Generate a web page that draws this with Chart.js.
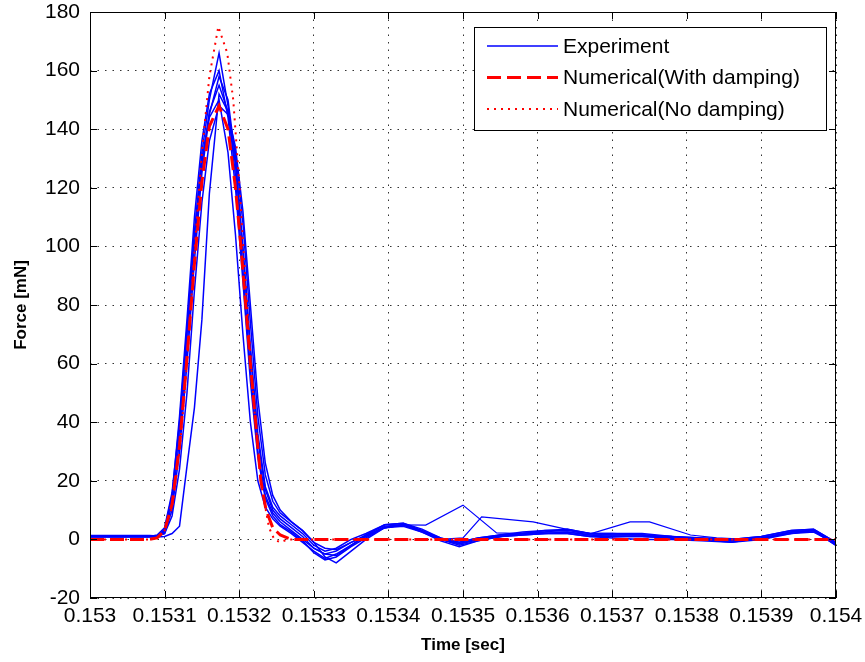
<!DOCTYPE html>
<html>
<head>
<meta charset="utf-8">
<script src="https://cdn.jsdelivr.net/npm/chart.js@4.4.1/dist/chart.umd.min.js"></script>
<style>
  html, body { margin: 0; padding: 0; background: #fff; }
</style>
</head>
<body>
<canvas id="forceChart" width="865" height="662"></canvas>
<script>
// axis ticks
const xTickValues = [0.153, 0.1531, 0.1532, 0.1533, 0.1534, 0.1535, 0.1536, 0.1537, 0.1538, 0.1539, 0.154];
const yTickValues = [-20, 0, 20, 40, 60, 80, 100, 120, 140, 160, 180];

// experiment runs, all sampled on the same time grid [s]
const tExp = [0.153, 0.15308, 0.15309, 0.1531, 0.15311, 0.15312, 0.15313, 0.15314, 0.15315, 0.15316,
  0.153173, 0.153185, 0.153195, 0.153205, 0.153215, 0.153225, 0.153235, 0.153245, 0.153255,
  0.15327, 0.153285, 0.1533, 0.153315, 0.15333, 0.15335, 0.15337, 0.153395, 0.15342, 0.153445,
  0.15347, 0.153495, 0.15352, 0.15355, 0.15358, 0.15361, 0.15364, 0.15367, 0.1537, 0.15374,
  0.15378, 0.15382, 0.15386, 0.1539, 0.15394, 0.15397, 0.154];

const exp1 = [1, 1, 1, 3, 14, 38, 70, 104, 132, 150,
  166, 148, 124, 92, 58, 30, 15, 9, 6,
  3, 0, -3, -5, -4, -1, 1, 4, 5, 3,
  0, -1.5, 0, 1, 2, 2.5, 2.5, 1.5, 1.5, 1.5,
  1, 0, -0.5, 0.5, 2.5, 3, -1.5];
const exp2 = [1.2, 1.2, 1, 2, 10, 30, 60, 95, 125, 145,
  158, 150, 130, 100, 66, 36, 18, 11, 8,
  5, 2, -2, -4, -3, 0, 2, 5, 5.5, 3.5,
  0.5, -1, 0.5, 1.5, 2, 3, 3, 2, 2, 2,
  1, 0.5, 0, 1, 3, 3.5, -1];
const exp3 = [0.8, 0.8, 0.8, 1, 2, 4.5, 25, 45, 75, 118,
  152, 146, 132, 108, 74, 42, 22, 13, 9,
  6, 3, -1, -6, -8, -4, 0, 4, 5, 2.5,
  -0.5, -2.5, -0.5, 1, 1.5, 2, 2, 1, 0.5, 0,
  0, -0.5, -1, 0.5, 2.5, 3, -2];
const exp4 = [1, 1, 1.5, 4, 16, 40, 72, 105, 130, 144,
  150, 132, 104, 70, 40, 20, 11, 7, 4.5,
  2, -1, -4, -6.5, -5, -2, 1, 4.5, 5, 3,
  0, -2, -0.5, 1, 2, 2.5, 3.5, 2, 1.5, 1.5,
  0.5, 0, -0.5, 0, 2, 3, -1.5];
const exp5 = [1, 1, 1, 2.5, 12, 34, 65, 100, 128, 146,
  155, 146, 128, 98, 64, 34, 17, 10, 7,
  4, 1, -3, -5, -5.5, -2, 1.5, 5, 5.5, 3,
  0, -1.5, 0, 1.5, 2.5, 3, 3.5, 2, 2, 1.5,
  1, 0.5, 0, 1, 3, 3.5, -1];
const exp6 = [1.3, 1.3, 1.2, 2, 8, 24, 50, 85, 115, 136,
  148, 145, 134, 112, 80, 48, 26, 15, 10,
  6, 3, -1, -3, -3.5, -1, 1.5, 4, 4.5, 2.5,
  0, -1, 0.5, 1.5, 2, 2, 2, 1, 1, 1,
  0.5, 0, -0.5, 0.5, 2, 2.5, -1.5];
const exp7 = [1, 1, 1, 3.5, 15, 42, 75, 110, 136, 152,
  160, 144, 120, 88, 54, 28, 14, 8, 5,
  2.5, -0.5, -4.5, -7, -6, -2.5, 0.5, 4, 5, 3,
  0.5, -1.5, 0, 1, 1.5, 2, 2.5, 1.5, 1, 1,
  0.5, 0, -1, 0, 2.5, 3, -2];

// two runs that leave the bundle after the pulse (own samples)
const tExpA = [0.1534, 0.15345, 0.1535, 0.153545, 0.15358];
const expA = [5, 4.9, 11.7, 2.2, 2];
const tExpB = [0.15347, 0.1535, 0.153525, 0.153594, 0.153647, 0.153665, 0.153724, 0.15375, 0.153805, 0.15384, 0.15388];
const expB = [0, 0.5, 7.7, 6, 3, 1.5, 6, 6, 1.5, 0.5, 0];

// numerical models
const tDamped = [0.153, 0.15308, 0.15309, 0.1531, 0.15311, 0.15312, 0.15313, 0.15314, 0.15315, 0.15316,
  0.153173, 0.153185, 0.153195, 0.153203, 0.15321, 0.153215, 0.153222, 0.153229, 0.153236,
  0.153245, 0.153255, 0.15327, 0.154];
const fDamped = [0, 0, 0.5, 3, 12, 32, 62, 94, 122, 141,
  148, 140, 120, 98, 76, 60, 40, 20, 10,
  4, 1.5, 0, 0];

const tUndamped = [0.153, 0.15308, 0.15309, 0.1531, 0.15311, 0.15312, 0.15313, 0.15314, 0.15315, 0.15316,
  0.153172, 0.153184, 0.153192, 0.1532, 0.15321, 0.15322, 0.15323, 0.15324, 0.153247,
  0.153255, 0.153265, 0.154];
const fUndamped = [0, 0, 0.5, 3, 11, 30, 60, 98, 132, 158,
  175, 166, 150, 122, 82, 45, 18, 4, 0,
  -1, 0, 0];

const BLUE = "#0000ff";
const RED = "#ff0000";

function pairs(ts, fs) {
  return ts.map((t, i) => ({ x: t, y: fs[i] }));
}

const datasets = [];
datasets.push({
  label: "Numerical(No damping)",
  data: pairs(tUndamped, fUndamped),
  borderColor: RED,
  borderWidth: 2,
  borderDash: [2, 5],
  order: 0
});
datasets.push({
  label: "Numerical(With damping)",
  data: pairs(tDamped, fDamped),
  borderColor: RED,
  borderWidth: 3,
  borderDash: [14, 6],
  order: 1
});
[exp1, exp2, exp3, exp4, exp5, exp6, exp7].forEach(run => {
  datasets.push({ label: "Experiment", data: pairs(tExp, run), borderColor: BLUE, borderWidth: 1.5, order: 2 });
});
datasets.push({ label: "Experiment", data: pairs(tExpA, expA), borderColor: BLUE, borderWidth: 1.2, order: 2 });
datasets.push({ label: "Experiment", data: pairs(tExpB, expB), borderColor: BLUE, borderWidth: 1.2, order: 2 });

// legend entries (one per distinct label)
const legendItems = [
  { text: "Experiment", color: BLUE, width: 1.5, dash: [] },
  { text: "Numerical(With damping)", color: RED, width: 3, dash: [14, 6] },
  { text: "Numerical(No damping)", color: RED, width: 2, dash: [2, 5] }
];

// inward ticks + closed box, like a MATLAB axes
const axesBox = {
  id: "axesBox",
  afterDatasetsDraw(chart) {
    const { ctx, chartArea: a, scales: { x, y } } = chart;
    ctx.save();
    ctx.strokeStyle = "#000";
    ctx.lineWidth = 1;
    ctx.setLineDash([]);
    ctx.beginPath();
    xTickValues.forEach(v => {
      const px = Math.round(x.getPixelForValue(v)) + 0.5;
      ctx.moveTo(px, a.bottom); ctx.lineTo(px, a.bottom - 7);
      ctx.moveTo(px, a.top); ctx.lineTo(px, a.top + 7);
    });
    yTickValues.forEach(v => {
      const py = Math.round(y.getPixelForValue(v)) + 0.5;
      ctx.moveTo(a.left, py); ctx.lineTo(a.left + 7, py);
      ctx.moveTo(a.right, py); ctx.lineTo(a.right - 7, py);
    });
    ctx.stroke();
    ctx.strokeRect(Math.round(a.left) + 0.5, Math.round(a.top) + 0.5,
      Math.round(a.width) - 1, Math.round(a.height) - 1);
    ctx.restore();
  }
};

const boxLegend = {
  id: "boxLegend",
  afterDraw(chart) {
    const { ctx } = chart;
    const left = 474, top = 27, w = 352, h = 103;
    ctx.save();
    ctx.fillStyle = "#fff";
    ctx.fillRect(left, top, w, h);
    ctx.strokeStyle = "#000";
    ctx.lineWidth = 1;
    ctx.setLineDash([]);
    ctx.strokeRect(left + 0.5, top + 0.5, w, h);
    ctx.font = "21px 'Liberation Sans', Arial, sans-serif";
    ctx.textBaseline = "middle";
    ctx.fillStyle = "#000";
    legendItems.forEach((item, i) => {
      const yy = top + 19 + i * 31.5;
      ctx.beginPath();
      ctx.strokeStyle = item.color;
      ctx.lineWidth = item.width;
      ctx.setLineDash(item.dash);
      ctx.moveTo(487, yy);
      ctx.lineTo(558, yy);
      ctx.stroke();
      ctx.fillText(item.text, 563, yy + 1);
    });
    ctx.restore();
  }
};

const tickFont = { family: "'Liberation Sans', Arial, sans-serif", size: 21 };
const titleFont = { family: "'Liberation Sans', Arial, sans-serif", size: 17, weight: "bold" };

new Chart(document.getElementById("forceChart"), {
  type: "line",
  data: { datasets: datasets },
  options: {
    responsive: false,
    devicePixelRatio: 1,
    animation: false,
    layout: { padding: { left: 0, top: 12, right: 29, bottom: 0 } },
    elements: {
      point: { radius: 0, hoverRadius: 0 },
      line: { tension: 0, fill: false }
    },
    plugins: {
      legend: { display: false },
      tooltip: { enabled: false }
    },
    scales: {
      x: {
        type: "linear",
        min: 0.153,
        max: 0.154,
        afterBuildTicks: scale => { scale.ticks = xTickValues.map(v => ({ value: v })); },
        afterFit: scale => { scale.height = 64; scale.paddingLeft = 0; scale.paddingRight = 0; },
        grid: { color: "rgba(0,0,0,0.8)", lineWidth: 1, drawTicks: false },
        border: { display: false, dash: [1.5, 6] },
        ticks: {
          color: "#000",
          font: tickFont,
          padding: 6,
          maxRotation: 0,
          autoSkip: false,
          callback: v => String(parseFloat(Number(v).toFixed(4)))
        },
        title: { display: true, text: "Time [sec]", color: "#000", font: titleFont, padding: { top: 0, bottom: 6 } }
      },
      y: {
        min: -20,
        max: 180,
        afterBuildTicks: scale => { scale.ticks = yTickValues.map(v => ({ value: v })); },
        afterFit: scale => { scale.width = 90; scale.paddingTop = 0; scale.paddingBottom = 0; },
        grid: { color: "rgba(0,0,0,0.8)", lineWidth: 1, drawTicks: false },
        border: { display: false, dash: [1.5, 6] },
        ticks: { color: "#000", font: tickFont, padding: 10 },
        title: { display: true, text: "Force [mN]", color: "#000", font: titleFont, padding: { top: 11, bottom: 0 } }
      }
    }
  },
  plugins: [axesBox, boxLegend]
});
</script>
</body>
</html>
